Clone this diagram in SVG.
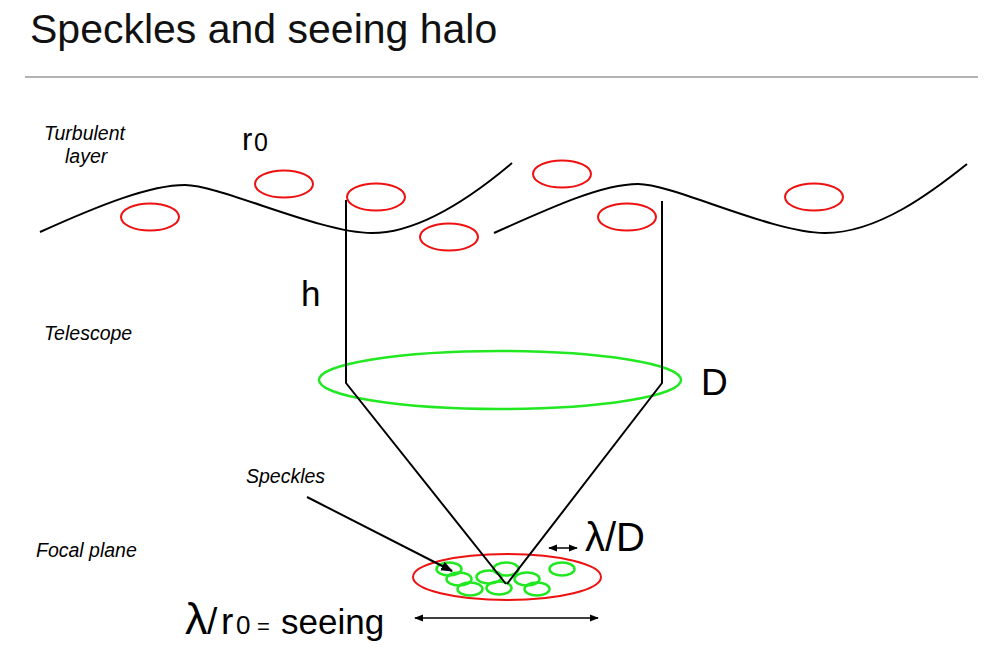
<svg xmlns="http://www.w3.org/2000/svg" width="986" height="665" viewBox="0 0 986 665">
<defs>
<style>
.red{fill:none;stroke:#ee1111;stroke-width:2}
.grn{fill:none;stroke:#22e822;stroke-width:2.5}
.blk{fill:none;stroke:#000;stroke-width:2}
.lbl{font-family:"Liberation Sans",Arial,sans-serif;font-style:italic;font-size:19.5px;fill:#000}
.sym{font-family:"Liberation Sans",Arial,sans-serif;fill:#000}
</style>
<marker id="ah" viewBox="0 0 10 10" refX="9" refY="5" markerWidth="9" markerHeight="9" markerUnits="userSpaceOnUse" orient="auto-start-reverse">
<path d="M0,1 L10,5 L0,9 Z" fill="#000"/>
</marker>
<marker id="ah2" viewBox="0 0 10 10" refX="9" refY="5" markerWidth="12" markerHeight="12" markerUnits="userSpaceOnUse" orient="auto-start-reverse">
<path d="M0,1 L10,5 L0,9 Z" fill="#000"/>
</marker>
</defs>
<rect width="986" height="665" fill="#fff"/>
<text x="30" y="43" style="font-family:'Liberation Sans',Arial,sans-serif;font-size:41px;fill:#111">Speckles and seeing halo</text>
<line x1="25" y1="77" x2="978" y2="77" stroke="#999" stroke-width="1.5"/>

<g id="labels">
<text class="lbl" x="44" y="140">Turbulent</text>
<text class="lbl" x="65" y="163">layer</text>
<text class="lbl" x="44" y="340">Telescope</text>
<text class="lbl" x="36" y="557">Focal plane</text>
<text class="lbl" x="246" y="483">Speckles</text>
<text class="sym" x="242" y="150" font-size="31">r</text>
<text class="sym" x="254" y="151" font-size="25">0</text>
<text class="sym" x="301" y="306" font-size="35">h</text>
<text class="sym" x="701" y="395" font-size="37">D</text>
<text class="sym" x="585" y="551" font-size="40">λ/D</text>
<text class="sym" x="185" y="634" font-size="45">λ</text>
<text class="sym" x="207" y="634" font-size="37">/</text>
<text class="sym" x="221" y="634" font-size="37">r</text>
<text class="sym" x="236" y="634" font-size="26">0</text>
<text class="sym" x="257" y="634" font-size="22">=</text>
<text class="sym" x="281" y="634" font-size="35">seeing</text>
</g>

<g id="turbulent-layer">
<path class="blk" d="M40,232 C100,205 150,185 185,185 S320,233 372,233 S480,190 512,163"/>
<path class="blk" d="M494,233 C554,206 603,184 638,184 S772,233 825,233 S932,192 967,164"/>
<ellipse class="red" cx="150" cy="217" rx="29" ry="13.5"/>
<ellipse class="red" cx="284" cy="184" rx="29" ry="13.5"/>
<ellipse class="red" cx="376" cy="197" rx="29" ry="13.5"/>
<ellipse class="red" cx="449" cy="237" rx="29" ry="13.5"/>
<ellipse class="red" cx="562" cy="174" rx="29" ry="13.5"/>
<ellipse class="red" cx="627" cy="217" rx="29" ry="13.5"/>
<ellipse class="red" cx="814" cy="197" rx="29" ry="13.5"/>
</g>

<g id="telescope">
<ellipse class="grn" cx="500" cy="380" rx="181" ry="29"/>
</g>

<g id="focal-plane">
<ellipse class="red" cx="507" cy="577" rx="94" ry="23" stroke-width="2.2"/>
<ellipse class="grn" cx="449" cy="569" rx="12.5" ry="6.5"/>
<ellipse class="grn" cx="459" cy="579" rx="12.5" ry="6.5"/>
<ellipse class="grn" cx="470" cy="589" rx="12.5" ry="6.5"/>
<ellipse class="grn" cx="489" cy="577" rx="12.5" ry="6.5"/>
<ellipse class="grn" cx="506" cy="569" rx="12.5" ry="6.5"/>
<ellipse class="grn" cx="499" cy="588" rx="12.5" ry="6.5"/>
<ellipse class="grn" cx="527" cy="579" rx="12.5" ry="6.5"/>
<ellipse class="grn" cx="537" cy="589" rx="12.5" ry="6.5"/>
<ellipse class="grn" cx="562" cy="569" rx="12.5" ry="6.5"/>
</g>

<g id="connectors">
<polyline class="blk" points="346,200 346,383 506,584"/>
<polyline class="blk" points="662,201 662,383 507,584"/>
<line class="blk" x1="307" y1="497" x2="452" y2="571" marker-end="url(#ah2)"/>
<line x1="549" y1="548" x2="577" y2="548" stroke="#000" stroke-width="1.5" marker-start="url(#ah)" marker-end="url(#ah)"/>
<line x1="415" y1="618" x2="598" y2="618" stroke="#000" stroke-width="1.5" marker-start="url(#ah)" marker-end="url(#ah)"/>
</g>
</svg>
